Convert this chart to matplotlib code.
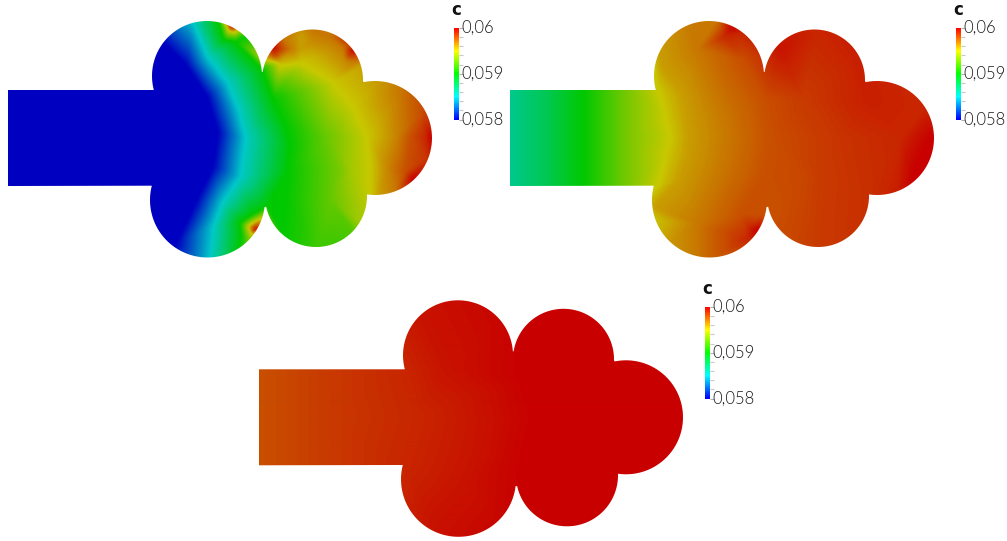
import numpy as np
import matplotlib
matplotlib.use("Agg")
import matplotlib.pyplot as plt
import matplotlib.tri as mtri
from matplotlib.cm import ScalarMappable
from matplotlib.colors import LinearSegmentedColormap, Normalize
from matplotlib.path import Path
from matplotlib.ticker import FixedLocator
from matplotlib.transforms import ScaledTranslation

plt.rcParams['font.family'] = ['Lato', 'DejaVu Sans']

# outline of the domain: rectangle + 5 circles, in pixels of the first panel
circle_x = [207.0, 312.5, 375.0, 316.0, 207.5]
circle_y = [76.0, 80.0, 138.0, 196.0, 200.0]
circle_r = [55.0, 50.5, 57.0, 51.0, 57.5]
joint_x = [156.0, 262.5, 363.5, 367.0, 265.0, 153.0]
joint_y = [90.0, 72.0, 81.0, 195.0, 207.0, 186.0]
inlet_x = 8.0

cbar_ticks = [0.058, 0.059, 0.06]
cbar_labels = ['0,058', '0,059', '0,06']

# field samples, panel 1 (grouped by level line)
a_x = [0, 0, 150, 150, 110, 120,
       163, 187, 207, 218, 213, 197, 177, 165,
       188, 192, 207, 227, 238, 245, 240, 222, 213, 210, 209,
       218, 224, 235, 246, 262, 273, 285, 290, 287, 267, 282, 285, 240, 238,
       232, 228, 234, 238, 225,
       255, 248, 251, 253, 240, 241, 252, 247,
       265, 300, 333, 353, 367, 370, 370, 372,
       312, 312, 300, 330, 300, 325, 312, 272, 280, 275, 290, 284, 280, 265,
       353, 347, 343, 345, 355, 360, 363, 300, 325, 280,
       375, 400, 420, 431, 425, 412, 405, 393, 410, 395, 378, 385, 427,
       316, 350, 330, 340, 325, 350, 360, 300, 310,
       440, 440, 440, 400, 330, 260, 330, 400, 250]
a_y = [15, 265, 15, 265, 90, 186,
       43, 67, 97, 133, 167, 200, 242, 265,
       15, 21, 57, 83, 110, 138, 177, 203, 227, 257, 265,
       21, 40, 42, 36, 70, 100, 125, 145, 173, 207, 235, 200, 246, 252,
       27, 31, 33, 30, 15,
       230, 227, 235, 223, 223, 234, 215, 243,
       60, 63, 83, 107, 138, 167, 192, 200,
       30, 42, 36, 38, 50, 55, 57, 48, 50, 57, 50, 40, 63, 42,
       50, 57, 48, 62, 62, 45, 65, 20, 20, 15,
       85, 100, 115, 138, 138, 180, 172, 138, 138, 190, 196, 165, 160,
       247, 228, 200, 170, 138, 170, 225, 265, 265,
       15, 138, 265, 40, 15, 15, 265, 265, 265]
a_c = [.0578, .0578, .0578, .0578, .0578, .0578,
       .058, .058, .058, .058, .058, .058, .058, .058,
       .0585, .0585, .0585, .0585, .0585, .0585, .0585, .0585, .0585, .0585, .0585,
       .059, .059, .059, .059, .059, .059, .059, .059, .059, .059, .059, .059, .059, .059,
       .060, .0595, .0595, .0595, .0592,
       .060, .0595, .0595, .0595, .059, .059, .059, .0592,
       .0595, .0595, .0595, .0595, .0595, .0595, .0595, .0595,
       .0597, .05965, .0596, .0597, .0596, .0596, .05955, .060, .05985, .0598, .0597, .0597, .05955, .060,
       .060, .0598, .0597, .05965, .0597, .060, .0596, .0597, .0597, .0597,
       .0596, .0597, .0598, .060, .0599, .060, .0598, .05965, .0598, .0597, .0596, .05965, .05987,
       .05915, .0592, .05925, .0593, .05925, .0594, .0594, .05905, .0591,
       .0598, .060, .0598, .0597, .0597, .059, .0591, .0595, .0592]

# panel 2
b_x = [0, 8, 8, 8, 45, 45, 45, 81, 81, 81, 125, 125, 125,
       150, 156, 163, 168, 163, 156, 150,
       152, 158, 178, 182, 185, 182, 175, 151, 160,
       190, 195, 215, 222, 225, 222, 215, 195, 195,
       240, 262, 266, 268, 266, 262, 240,
       231, 222, 224, 239, 255, 246, 245,
       268, 275, 260, 245, 215,
       300, 340, 300, 320, 315, 367, 398, 365, 315, 345, 278, 350, 428, 410, 420, 395,
       0, 0, 81, 81, 440, 440, 440, 400, 300, 300]
b_y = [138, 90, 138, 186, 90, 138, 186, 90, 138, 186, 90, 138, 186,
       60, 90, 115, 138, 160, 186, 220,
       40, 67, 95, 115, 138, 160, 180, 207, 245,
       15, 50, 100, 118, 138, 158, 180, 225, 265,
       60, 100, 120, 138, 155, 175, 215,
       28, 36, 24, 34, 230, 228, 240,
       225, 210, 215, 20, 20,
       100, 138, 180, 170, 247, 197, 138, 100, 33, 70, 50, 50, 138, 177, 110, 190,
       15, 265, 15, 265, 15, 138, 265, 230, 15, 265]
b_c = [.05865, .05865, .05865, .05865, .0588, .0588, .0588, .059, .059, .059, .0593, .0593, .0593,
       .0595, .0595, .0595, .0595, .0595, .0595, .0595,
       .0596, .0596, .0596, .0596, .0596, .0596, .0596, .0596, .0596,
       .0597, .0597, .0597, .0597, .0597, .0597, .0597, .0597, .0597,
       .0598, .0598, .0598, .0598, .0598, .0598, .0598,
       .060, .0599, .0599, .0599, .060, .0599, .0599,
       .0598, .0598, .0598, .0598, .0597,
       .05985, .05987, .05982, .05985, .05985, .05988, .0599, .05992, .0599, .0599, .05995, .05992, .060, .060, .0599, .05992,
       .0595, .0595, .0595, .0595, .0599, .060, .0599, .0599, .0599, .0598]

# panel 3
c_x = [0, 0, 8, 8, 75, 75, 75, 75, 75,
       130, 150, 165, 150, 130,
       160, 195, 225, 232, 226, 212, 182, 170,
       280, 275, 285, 275, 270,
       350, 432, 440, 440, 350]
c_y = [15, 265, 90, 186, 15, 90, 138, 186, 265,
       15, 90, 138, 186, 265,
       15, 90, 115, 143, 175, 207, 240, 265,
       15, 100, 138, 180, 265,
       15, 138, 15, 265, 265]
c_c = [.0598, .0598, .0598, .0598, .05985, .05985, .05985, .05985, .05985,
       .0599, .0599, .0599, .0599, .0599,
       .05995, .05995, .05995, .05995, .05995, .05995, .05995, .05995,
       .06, .06, .06, .06, .06,
       .06, .06, .06, .06, .06]

panel_dx = [0, 502, 251]
panel_dy = [0, 0, 279.3]
cbar_left = [453.5, 955.5, 704.5]
cbar_top = [28, 28, 307]


def domain_outline():
    # walks the joints and follows each circle between two of them
    xs = [inlet_x, joint_x[0]]
    ys = [joint_y[0], joint_y[0]]
    for i in range(5):
        a0 = np.arctan2(joint_y[i] - circle_y[i], joint_x[i] - circle_x[i])
        a1 = np.arctan2(joint_y[i + 1] - circle_y[i], joint_x[i + 1] - circle_x[i])
        if a1 < a0:
            a1 += 2 * np.pi
        t = np.linspace(a0, a1, 60)
        xs.extend(circle_x[i] + circle_r[i] * np.cos(t))
        ys.extend(circle_y[i] + circle_r[i] * np.sin(t))
    xs.extend([inlet_x, inlet_x])
    ys.extend([joint_y[-1], joint_y[0]])
    return np.array(xs), np.array(ys)


def soften(z, n=5):
    # box blur along both directions, hides the facets of the linear interpolation
    kernel = np.ones(n) / n
    pad = n // 2
    z = np.pad(z, pad, mode='edge')
    z = np.apply_along_axis(lambda r: np.convolve(r, kernel, mode='same'), 0, z)
    z = np.apply_along_axis(lambda r: np.convolve(r, kernel, mode='same'), 1, z)
    return z[pad:-pad, pad:-pad]


rainbow = LinearSegmentedColormap.from_list(
    'pv_rainbow', ['#0000ff', '#00ffff', '#00ff00', '#ffff00', '#ff0000'], N=256)
# the surface is lit in the render so everything comes out darker than the bar
lit = LinearSegmentedColormap.from_list(
    'pv_lit', ['#0000c0', '#00c8c8', '#00c800', '#c8c800', '#c80000'], N=256)
norm = Normalize(0.058, 0.06)

fig = plt.figure(figsize=(10.07, 5.41), dpi=100)
ax = fig.add_axes([0, 0, 1, 1])
ax.set_xlim(0, 1007)
ax.set_ylim(541, 0)
ax.axis('off')

gx, gy = np.meshgrid(np.arange(0, 440.5, 1.0), np.arange(15, 265.5, 1.0))
out_x, out_y = domain_outline()
label_shift = ScaledTranslation(-1.5 / 100, 1.5 / 100, fig.dpi_scale_trans)

for k, (px, py, pc) in enumerate([(a_x, a_y, a_c), (b_x, b_y, b_c), (c_x, c_y, c_c)]):
    tri = mtri.Triangulation(px, py)
    field = mtri.LinearTriInterpolator(tri, np.array(pc))(gx, gy)
    field = soften(np.ma.filled(field, 0.06))
    dx, dy = panel_dx[k], panel_dy[k]
    im = ax.imshow(field, cmap=lit, norm=norm, origin='upper', interpolation='bilinear',
                   extent=[dx - 0.5, dx + 440.5, dy + 265.5, dy + 14.5], aspect='auto', zorder=2)
    im.set_clip_path(Path(np.column_stack([out_x + dx, out_y + dy])), ax.transData)

    x0, y0 = cbar_left[k], cbar_top[k]
    cax = fig.add_axes([x0 / 1007, 1 - (y0 + 91.5) / 541, 5.5 / 1007, 91.5 / 541])
    cb = fig.colorbar(ScalarMappable(norm=norm, cmap=rainbow), cax=cax)
    cb.outline.set_visible(False)
    cb.set_ticks(cbar_ticks)
    cb.set_ticklabels(cbar_labels)
    cb.ax.yaxis.set_minor_locator(FixedLocator(np.arange(0.058, 0.06001, 0.0002)))
    cb.ax.tick_params(which='major', length=3, width=0.8, color='#b0b0b0', pad=0,
                      labelsize=12, labelcolor='#1a1a1a')
    cb.ax.tick_params(which='minor', length=3, width=0.8, color='#c8c8c8')
    for lab in cb.ax.get_yticklabels():
        lab.set_fontweight(300)
        lab.set_transform(lab.get_transform() + label_shift)
    ax.text(x0 + 2.5, y0 - 18, 'c', fontsize=12, fontweight='bold', color='#111111',
            family='DejaVu Sans', ha='center', va='center', zorder=3)

fig.savefig('out.png', dpi=100)
